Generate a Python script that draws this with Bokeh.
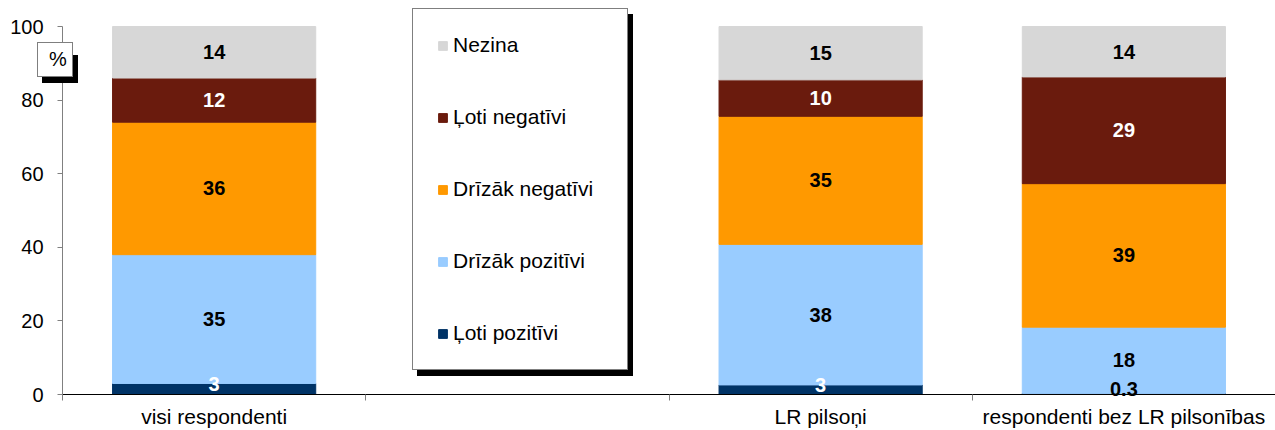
from bokeh.plotting import figure
from bokeh.models import ColumnDataSource, Range1d, FixedTicker, Legend, LegendItem
from bokeh.core.properties import value
from bokeh.embed import file_html
from bokeh.resources import INLINE

# ---------------- data ----------------
categories = ["visi respondenti", "", "LR pilsoņi", "respondenti bez LR pilsonības"]
series_names = ["Ļoti pozitīvi", "Drīzāk pozitīvi", "Drīzāk negatīvi", "Ļoti negatīvi", "Nezina"]
loti_pozitivi = [3, 0, 2.6, 0.3]
drizak_pozitivi = [35, 0, 38.2, 18]
drizak_negativi = [36, 0, 34.8, 39]
loti_negativi = [12, 0, 9.9, 29]
nezina = [14, 0, 14.5, 13.7]
y_ticks = [0, 20, 40, 60, 80, 100]
unit_label = "%"

series_values = [loti_pozitivi, drizak_pozitivi, drizak_negativi, loti_negativi, nezina]
colors = ["#003366", "#99CCFF", "#FF9900", "#6A1B0D", "#D7D7D7"]
label_colors = ["white", "black", "black", "white", "black"]

FONT = "Liberation Sans"

xs = [i + 0.5 for i in range(len(categories))]
keys = ["s%d" % k for k in range(len(series_names))]
src = ColumnDataSource(dict(x=xs, **{k: v for k, v in zip(keys, series_values)}))

# the frame covers the whole canvas; both axes are pinned at 0 inside it
p = figure(width=1275, height=430,
           x_range=Range1d(-0.2045, len(categories)), y_range=Range1d(-9.783, 107.07),
           output_backend="svg", toolbar_location=None,
           min_border_left=0, min_border_right=0, min_border_top=0, min_border_bottom=0)
p.outline_line_color = None
p.grid.visible = False
p.background_fill_color = "white"

renderers = p.vbar_stack(keys, x="x", width=0.67, color=colors, source=src)

# ---------------- data labels ----------------
def fmt(v):
    return ("%.1f" % v) if v < 1 else str(int(v + 0.5))

lx, ly, lt, lc, lo = [], [], [], [], []
for j, vals in enumerate(series_values):
    for i, v in enumerate(vals):
        if v == 0:
            continue
        base = sum(series_values[k][i] for k in range(j))
        lx.append(xs[i])
        ly.append(base + v / 2)
        lt.append(fmt(v))
        lc.append(label_colors[j] if v >= 1 else "black")
        lo.append(-5 if v < 5 else 0)
lsrc = ColumnDataSource(dict(x=lx, y=ly, t=lt, c=lc, o=lo))
p.text(x="x", y="y", text="t", text_color="c", y_offset="o", source=lsrc,
       text_align="center", text_baseline="middle",
       text_font=value(FONT), text_font_size="20px", text_font_style="bold")

# ---------------- axes ----------------
xa = p.xaxis[0]
xa.fixed_location = 0
xa.bounds = (0, len(categories))
xa.ticker = FixedTicker(ticks=xs, minor_ticks=list(range(len(categories))))
xa.major_label_overrides = {x: c for x, c in zip(xs, categories)}
xa.major_tick_out = 0
xa.major_tick_in = 0
xa.minor_tick_out = 6
xa.minor_tick_in = 0
xa.minor_tick_line_color = "#808080"
xa.axis_line_color = "black"
xa.major_label_text_font = FONT
xa.major_label_text_font_size = "21px"
xa.major_label_text_color = "black"
xa.major_label_standoff = 4

ya = p.yaxis[0]
ya.fixed_location = 0
ya.bounds = (0, 100)
ya.ticker = FixedTicker(ticks=y_ticks)
ya.major_tick_out = 5
ya.major_tick_in = 0
ya.minor_tick_out = 0
ya.minor_tick_in = 0
ya.axis_line_color = "#808080"
ya.major_tick_line_color = "#808080"
ya.major_label_text_font = FONT
ya.major_label_text_font_size = "20px"
ya.major_label_text_color = "black"
ya.major_label_standoff = 14

# ---------------- legend (with shadow) ----------------
def make_legend(loc, bg, shadow):
    items = [LegendItem(label=(" " if shadow else series_names[k]), renderers=[renderers[k]])
             for k in reversed(range(len(series_names)))]
    return Legend(items=items, location=loc, orientation="vertical",
                  label_text_font=FONT, label_text_font_size="21px",
                  label_text_color="black",
                  glyph_width=11, glyph_height=11, label_height=24, label_width=150,
                  label_standoff=5, spacing=48, padding=24, margin=0,
                  border_line_color="black", border_line_width=1,
                  background_fill_color=bg, background_fill_alpha=1.0)

# ---------------- "%" box (with shadow), drawn as a one-item legend ----------------
dummy = p.scatter(x=[], y=[], size=1, fill_alpha=0, line_alpha=0)

def make_unit_box(loc, bg, shadow):
    return Legend(items=[LegendItem(label=(" " if shadow else unit_label), renderers=[dummy])],
                  location=loc,
                  label_text_font=FONT, label_text_font_size="20px", label_text_color="black",
                  glyph_width=4, glyph_height=10, label_height=16, label_width=18,
                  label_standoff=2, spacing=0, padding=5, margin=0,
                  border_line_color="black", border_line_width=1,
                  background_fill_color=bg, background_fill_alpha=1.0)

p.add_layout(make_legend((417, 54), "black", True), "center")
p.add_layout(make_legend((412, 60), "white", False), "center")
p.add_layout(make_unit_box((42, 347), "black", True), "center")
p.add_layout(make_unit_box((37, 353), "white", False), "center")

open("out.html", "w").write(file_html(p, INLINE))
